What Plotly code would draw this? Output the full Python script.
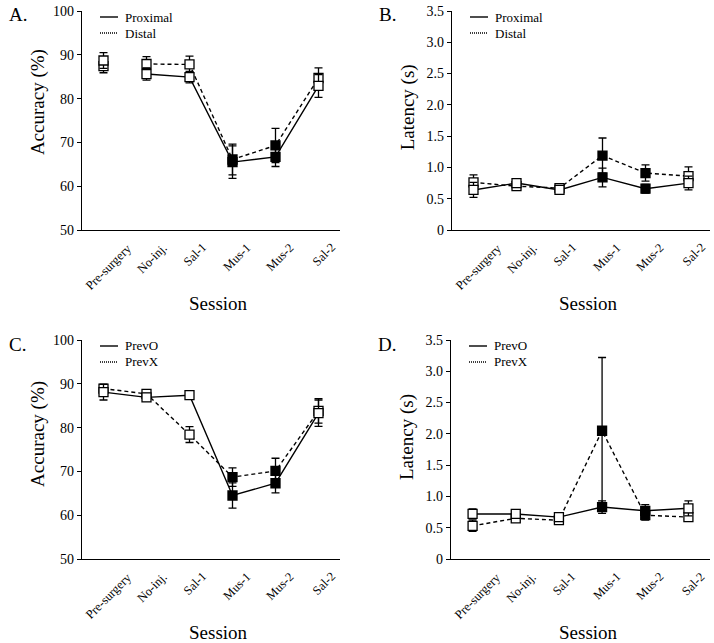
import plotly.graph_objects as go

# ---------------- data ----------------
sessions = ["Pre-surgery", "No-inj.", "Sal-1", "Mus-1", "Mus-2", "Sal-2"]

acc_proximal = [88.7, 85.6, 84.9, 65.5, 66.7, 82.9]
acc_proximal_err = [1.8, 1.4, 1.3, 3.7, 2.2, 2.6]
acc_distal = [87.4, 87.9, 87.8, 66.1, 69.3, 84.7]
acc_distal_err = [1.5, 1.7, 1.9, 3.5, 3.9, 2.3]

lat_proximal = [0.64, 0.75, 0.64, 0.84, 0.66, 0.75]
lat_proximal_err = [0.12, 0.05, 0.05, 0.15, 0.07, 0.11]
lat_distal = [0.76, 0.70, 0.67, 1.19, 0.91, 0.86]
lat_distal_err = [0.12, 0.05, 0.05, 0.28, 0.13, 0.15]

acc_prevO = [88.1, 86.9, 87.4, 64.5, 67.3, 83.3]
acc_prevO_err = [1.8, 0.9, 0.8, 2.9, 2.2, 3.0]
acc_prevX = [88.9, 87.7, 78.4, 68.7, 70.1, 83.8]
acc_prevX_err = [0.8, 0.8, 1.8, 2.1, 2.9, 2.8]

lat_prevO = [0.72, 0.72, 0.67, 0.83, 0.77, 0.81]
lat_prevO_err = [0.08, 0.05, 0.05, 0.10, 0.10, 0.12]
lat_prevX = [0.53, 0.65, 0.62, 2.05, 0.70, 0.67]
lat_prevX_err = [0.09, 0.05, 0.05, 1.17, 0.08, 0.07]

acc_ticks = [50, 60, 70, 80, 90, 100]
lat_ticks = [0, 0.5, 1.0, 1.5, 2.0, 2.5, 3.0, 3.5]
lat_ticktext = ["0", "0.5", "1.0", "1.5", "2.0", "2.5", "3.0", "3.5"]

# ---------------- style ----------------
FONT = "Liberation Serif"
W, H = 714, 643
xpos = list(range(len(sessions)))
fills = ["black" if s.startswith("Mus") else "white" for s in sessions]

fig = go.Figure()

# panel geometry in page pixels (left, right, top, bottom)
panels = [
    (82, 340, 11, 230),
    (452, 710, 11, 230),
    (82, 340, 340, 559),
    (451, 710, 340, 559),
]


def add_series(k, y, err, dash, connect_first=True):
    xa = "x" if k == 1 else f"x{k}"
    ya = "y" if k == 1 else f"y{k}"
    lx = xpos if connect_first else xpos[1:]
    ly = y if connect_first else y[1:]
    fig.add_trace(go.Scatter(
        x=lx, y=ly, mode="lines", xaxis=xa, yaxis=ya, showlegend=False,
        line=dict(color="black", width=1.4, dash=dash), hoverinfo="skip"))
    fig.add_trace(go.Scatter(
        x=xpos, y=y, mode="markers", xaxis=xa, yaxis=ya, showlegend=False,
        marker=dict(symbol="square", size=9, color=fills,
                    line=dict(color="black", width=1.3)),
        error_y=dict(type="data", array=err, color="black", thickness=1.3, width=4)))


add_series(1, acc_distal, acc_distal_err, "4px,3px", connect_first=False)
add_series(1, acc_proximal, acc_proximal_err, "solid", connect_first=False)
add_series(2, lat_distal, lat_distal_err, "4px,3px")
add_series(2, lat_proximal, lat_proximal_err, "solid")
add_series(3, acc_prevX, acc_prevX_err, "4px,3px")
add_series(3, acc_prevO, acc_prevO_err, "solid")
add_series(4, lat_prevX, lat_prevX_err, "4px,3px")
add_series(4, lat_prevO, lat_prevO_err, "solid")

layout = dict(
    template="none",
    width=W, height=H, margin=dict(l=0, r=0, t=0, b=0, autoexpand=False),
    paper_bgcolor="white", plot_bgcolor="white",
    font=dict(family=FONT, color="black"),
)

for k, (l, r, t, b) in enumerate(panels, start=1):
    xs = "xaxis" if k == 1 else f"xaxis{k}"
    ys = "yaxis" if k == 1 else f"yaxis{k}"
    ya = "y" if k == 1 else f"y{k}"
    xa = "x" if k == 1 else f"x{k}"
    layout[xs] = dict(
        domain=[l / W, r / W], anchor=ya, range=[-0.5, 5.5],
        tickvals=xpos, showticklabels=False, automargin=False,
        showline=True, linecolor="black", linewidth=1.3,
        showgrid=False, zeroline=False, ticks="", fixedrange=True)
    if k in (1, 3):
        yd = dict(range=[50, 100], tickvals=acc_ticks)
    else:
        yd = dict(range=[0, 3.5], tickvals=lat_ticks, ticktext=lat_ticktext)
    layout[ys] = dict(
        domain=[1 - b / H, 1 - t / H], anchor=xa, automargin=False,
        tickfont=dict(family=FONT, size=14, color="black"),
        showline=True, linecolor="black", linewidth=1.3,
        ticks="outside", ticklen=4, tickwidth=1.3, tickcolor="black",
        showgrid=False, zeroline=False, fixedrange=True, **yd)

fig.update_layout(**layout)

# axis titles, tick labels, panel letters, legends
titles_y = ["Accuracy (%)", "Latency (s)", "Accuracy (%)", "Latency (s)"]
ytitle_pos = [0.584, 0.56, 0.571, 0.557]
letters = ["A.", "B.", "C.", "D."]
legend_names = [("Proximal", "Distal"), ("Proximal", "Distal"),
                ("PrevO", "PrevX"), ("PrevO", "PrevX")]
annotations = []
shapes = []
for k, (l, r, t, b) in enumerate(panels, start=1):
    xa = "x" if k == 1 else f"x{k}"
    xd = "x domain" if k == 1 else f"x{k} domain"
    yd = "y domain" if k == 1 else f"y{k} domain"
    pw = r - l
    ph = b - t
    # category tick labels: rotated, centred on the tick, top-aligned
    for xi, lab in zip(xpos, sessions):
        annotations.append(dict(
            text=lab, xref=xa, yref=yd, x=xi, y=-8 / ph, xshift=5,
            textangle=-45, showarrow=False, xanchor="center", yanchor="top",
            font=dict(family=FONT, size=12.5, color="black")))
    annotations.append(dict(
        text=titles_y[k - 1], xref=xd, yref=yd, x=-44 / pw, y=ytitle_pos[k - 1],
        textangle=-90, showarrow=False, xanchor="center", yanchor="middle",
        font=dict(family=FONT, size=19, color="black")))
    annotations.append(dict(
        text="Session", xref=xd, yref=yd, x=0.53, y=-73 / ph,
        showarrow=False, xanchor="center", yanchor="middle",
        font=dict(family=FONT, size=19, color="black")))
    annotations.append(dict(
        text=letters[k - 1], xref="paper", yref="paper",
        x=(l - 75) / W, y=1 - (t + 4) / H,
        showarrow=False, xanchor="left", yanchor="middle",
        font=dict(family=FONT, size=19, color="black")))
    for i, (nm, dash) in enumerate(zip(legend_names[k - 1], ["solid", "1px,1px"])):
        yy = 1 - (6 + 16 * i) / ph
        shapes.append(dict(type="line", xref=xd, yref=yd,
                           x0=18 / pw, x1=36 / pw, y0=yy, y1=yy,
                           line=dict(color="black", width=1.4, dash=dash)))
        annotations.append(dict(
            text=nm, xref=xd, yref=yd, x=41 / pw, y=yy, showarrow=False,
            xanchor="left", yanchor="middle",
            font=dict(family=FONT, size=13, color="black")))

fig.update_layout(annotations=annotations, shapes=shapes)
fig.write_html("out.html", config={"displayModeBar": False},
               post_script="document.body.style.margin='0';document.body.style.overflow='hidden';")
